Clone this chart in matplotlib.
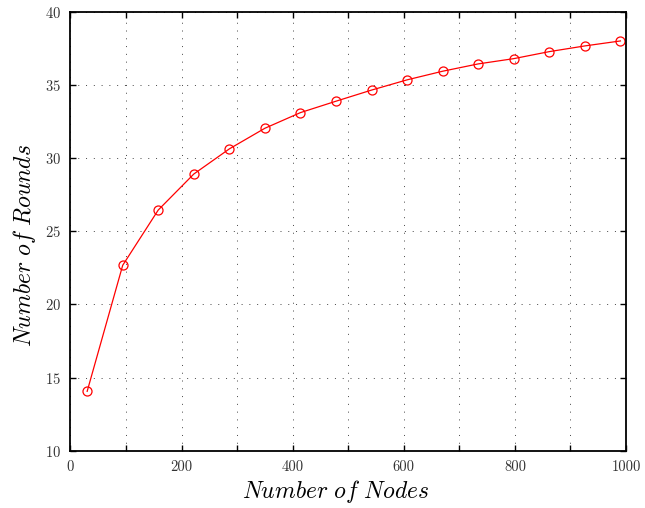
import numpy as np
import matplotlib
matplotlib.use("Agg")
from matplotlib import pyplot as plt

# rounds needed vs. network size
nodes = [30, 94, 158, 222, 286, 350, 414, 478, 542, 606, 670, 734, 798, 862, 926, 990]
rounds = [14.06, 22.68, 26.46, 28.92, 30.64, 32.05, 33.12, 33.9, 34.66, 35.36,
          35.95, 36.45, 36.81, 37.29, 37.68, 38.02]

x_ticks = [0, 100, 200, 300, 400, 500, 600, 700, 800, 900, 1000]
x_tick_labels = ['0', '', '200', '', '400', '', '600', '', '800', '', '1000']
y_ticks = [10, 15, 20, 25, 30, 35, 40]

plt.rcParams['font.family'] = 'cmr10'
plt.rcParams['mathtext.fontset'] = 'cm'
plt.rcParams['axes.formatter.use_mathtext'] = True

fig = plt.figure(figsize=(6.45, 5.08), dpi=100)
ax = fig.add_axes([0.1093, 0.1128, 0.8612, 0.8636])

ax.plot(nodes, rounds, color='red', linewidth=0.9, marker='o',
        markersize=6.5, markerfacecolor='none', markeredgecolor='red',
        markeredgewidth=0.9)

ax.set_xlim(0, 1000)
ax.set_ylim(10, 40)
ax.set_xticks(x_ticks)
ax.set_xticklabels(x_tick_labels)
ax.set_yticks(y_ticks)
ax.grid(True, color='#444444', linestyle=(0, (1, 7)), linewidth=0.7)

ax.tick_params(direction='in', top=True, right=True, length=4, width=1,
               labelsize=10.5, colors='black', labelcolor='#333333', pad=7)
for s in ax.spines.values():
    s.set_linewidth(1.3)

ax.set_xlabel(r'$Number\ of\ Nodes$', fontsize=17)
ax.set_ylabel(r'$Number\ of\ Rounds$', fontsize=17)
ax.xaxis.set_label_coords(0.477, -0.062)
ax.yaxis.set_label_coords(-0.059, 0.468)

plt.savefig('out.png', dpi=100)
